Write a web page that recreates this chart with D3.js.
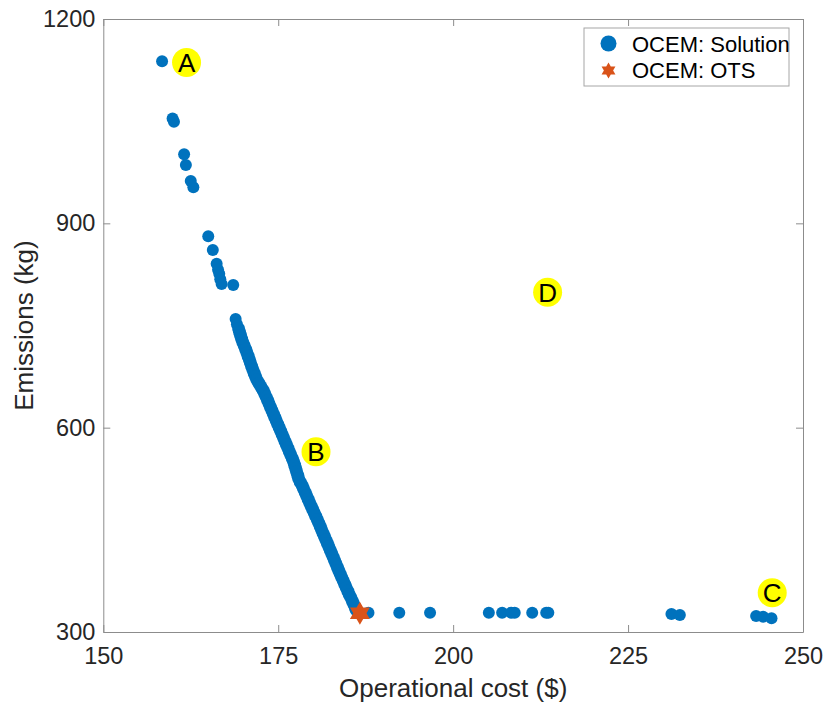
<!DOCTYPE html>
<html>
<head>
<meta charset="utf-8">
<script src="https://cdn.jsdelivr.net/npm/d3@7"></script>
<style>
  body { margin: 0; background: #fff; }
  svg { font-family: "Liberation Sans", Arial, Helvetica, sans-serif; }
</style>
</head>
<body>
<svg width="826" height="706"></svg>
<script>
// ticks
var xTicks = [150, 175, 200, 225, 250];
var yTicks = [300, 600, 900, 1200];

// upper, sparse part of the front (cost $, emissions kg)
var sparseCost = [158.4, 159.9, 160.1, 161.55, 161.8, 162.5, 162.87, 165.0, 165.65, 166.2, 166.4, 166.57, 166.72, 166.91, 168.57, 168.91, 169.1];
var sparseEmis = [1138, 1054, 1049, 1001.5, 985.8, 962, 953, 881, 860.8, 840.5, 832, 826, 818, 811, 809.5, 759.6, 752];

// dense band of solutions
var bandEmis = [745, 740, 735, 730, 725, 720, 715, 710, 705, 700, 695, 690, 685, 680, 675, 670, 665, 660, 655, 650, 645, 640,
  635, 630, 625, 620, 615, 610, 605, 600, 595, 590, 585, 580, 575, 570, 565, 560, 555, 550, 545, 540, 535, 530, 525,
  520, 515, 510, 505, 500, 495, 490, 485, 480, 475, 470, 465, 460, 455, 450, 445, 440, 435, 430, 425, 420, 415, 410, 405,
  400, 395, 390, 385, 380, 375, 370, 365, 360, 355, 350, 345, 340, 335, 332];
var bandCost = [169.35, 169.48, 169.63, 169.77, 169.95, 170.15, 170.35, 170.53, 170.70, 170.87, 171.03, 171.2, 171.38, 171.56, 171.76, 171.96, 172.25, 172.54, 172.83, 173.06, 173.27, 173.49,
  173.69, 173.90, 174.11, 174.31, 174.52, 174.72, 174.94, 175.14, 175.35, 175.56, 175.77, 175.97, 176.17, 176.38, 176.58, 176.79, 177.0, 177.2, 177.35, 177.5, 177.64, 177.79, 177.93,
  178.15, 178.43, 178.63, 178.85, 179.06, 179.27, 179.48, 179.7, 179.92, 180.14, 180.36, 180.58, 180.79, 181.0, 181.2, 181.41, 181.62, 181.82, 182.03, 182.24, 182.44, 182.65, 182.85, 183.06,
  183.26, 183.46, 183.66, 183.86, 184.08, 184.3, 184.51, 184.72, 184.95, 185.15, 185.4, 185.61, 185.83, 186.05, 186.18];

// flat tail of the front
var tailCost = [187.9, 192.3, 196.7, 205.1, 207.0, 208.3, 208.8, 211.3, 213.3, 213.6, 231.2, 232.4, 243.3, 244.3, 245.5];
var tailEmis = [328.3, 328.4, 328.4, 328.4, 328.4, 328.4, 328.4, 328.4, 328.4, 328.4, 326.4, 324.9, 323.5, 322.5, 320.1];

// OTS point
var otsCost = [186.67];
var otsEmis = [327.4];

// labelled points
var labelText = ["A", "B", "C", "D"];
var labelCost = [161.9, 180.4, 245.6, 213.5];
var labelEmis = [1136, 564.7, 357.7, 798.7];

var blue = "#0072BD";
var orange = "#D95319";
var axisCol = "#8c8c8c";
var textCol = "#262626";

var svg = d3.select("svg");
var margin = { left: 103.3, top: 19, right: 23, bottom: 74 };
var width = 826 - margin.left - margin.right;
var height = 706 - margin.top - margin.bottom;

var x = d3.scaleLinear().domain([150, 250]).range([0, width]);
var y = d3.scaleLinear().domain([300, 1200]).range([height, 0]);

var g = svg.append("g").attr("transform", "translate(" + margin.left + "," + margin.top + ")");

// build solution list
var solutions = [];
sparseCost.forEach(function(c, i) { solutions.push({ c: c, e: sparseEmis[i], r: 6 }); });
bandCost.forEach(function(c, i) { solutions.push({ c: c, e: bandEmis[i], r: 6.5 }); });
tailCost.forEach(function(c, i) { solutions.push({ c: c, e: tailEmis[i], r: 6 }); });

g.append("g")
  .selectAll("circle")
  .data(solutions)
  .enter()
  .append("circle")
  .attr("cx", function(d) { return x(d.c); })
  .attr("cy", function(d) { return y(d.e); })
  .attr("r", function(d) { return d.r; })
  .attr("fill", blue);

// hexagram path
function hexagram(R) {
  var pts = [];
  for (var k = 0; k < 12; k++) {
    var a = (-90 + k * 30) * Math.PI / 180;
    var rr = (k % 2 === 0) ? R : R / Math.sqrt(3);
    pts.push([rr * Math.cos(a), rr * Math.sin(a)]);
  }
  return "M" + pts.map(function(p) { return p[0].toFixed(2) + "," + p[1].toFixed(2); }).join("L") + "Z";
}

g.append("g")
  .selectAll("path")
  .data(otsCost)
  .enter()
  .append("path")
  .attr("d", hexagram(11.5))
  .attr("transform", function(d, i) { return "translate(" + x(d) + "," + y(otsEmis[i]) + ")"; })
  .attr("fill", orange);

// labels
var lab = g.append("g")
  .selectAll("g")
  .data(labelText)
  .enter()
  .append("g")
  .attr("transform", function(d, i) { return "translate(" + x(labelCost[i]) + "," + y(labelEmis[i]) + ")"; });
lab.append("circle").attr("r", 14.5).attr("fill", "#ffff00");
lab.append("text")
  .attr("text-anchor", "middle")
  .attr("dy", "0.36em")
  .style("font-size", "26px")
  .attr("fill", "#000")
  .text(function(d) { return d; });

// axes (ticks inside, box on)
function styleAxis(sel) {
  sel.select(".domain").attr("stroke", axisCol);
  sel.selectAll(".tick line").attr("stroke", axisCol);
  sel.selectAll(".tick text").attr("fill", textCol).style("font-size", "23.5px");
  sel.attr("font-family", null);
}

g.append("g")
  .attr("transform", "translate(0," + height + ")")
  .call(d3.axisBottom(x).tickValues(xTicks).tickFormat(d3.format("d")).tickSizeInner(-7).tickSizeOuter(0).tickPadding(15))
  .call(styleAxis);
g.append("g")
  .call(d3.axisTop(x).tickValues(xTicks).tickSizeInner(-7).tickSizeOuter(0).tickFormat(""))
  .call(styleAxis);
g.append("g")
  .call(d3.axisLeft(y).tickValues(yTicks).tickFormat(d3.format("d")).tickSizeInner(-7).tickSizeOuter(0).tickPadding(8))
  .call(styleAxis);
g.append("g")
  .attr("transform", "translate(" + width + ",0)")
  .call(d3.axisRight(y).tickValues(yTicks).tickSizeInner(-7).tickSizeOuter(0).tickFormat(""))
  .call(styleAxis);

// axis titles
svg.append("text")
  .attr("x", margin.left + width / 2)
  .attr("y", 697)
  .attr("text-anchor", "middle")
  .attr("fill", textCol)
  .style("font-size", "26px")
  .text("Operational cost ($)");

svg.append("text")
  .attr("transform", "translate(33," + (margin.top + height / 2) + ") rotate(-90)")
  .attr("text-anchor", "middle")
  .attr("fill", textCol)
  .style("font-size", "26px")
  .text("Emissions (kg)");

// legend
var leg = svg.append("g").attr("transform", "translate(584,28)");
leg.append("rect")
  .attr("width", 205)
  .attr("height", 58)
  .attr("fill", "#fff")
  .attr("stroke", "#a6a6a6");
leg.append("circle").attr("cx", 24.5).attr("cy", 15.5).attr("r", 8).attr("fill", blue);
leg.append("path").attr("d", hexagram(8)).attr("transform", "translate(24.5,42.5)").attr("fill", orange);
leg.append("text").attr("x", 48).attr("y", 23.5).style("font-size", "22px").attr("fill", "#000").text("OCEM: Solution");
leg.append("text").attr("x", 48).attr("y", 50).style("font-size", "22px").attr("fill", "#000").text("OCEM: OTS");
</script>
</body>
</html>
